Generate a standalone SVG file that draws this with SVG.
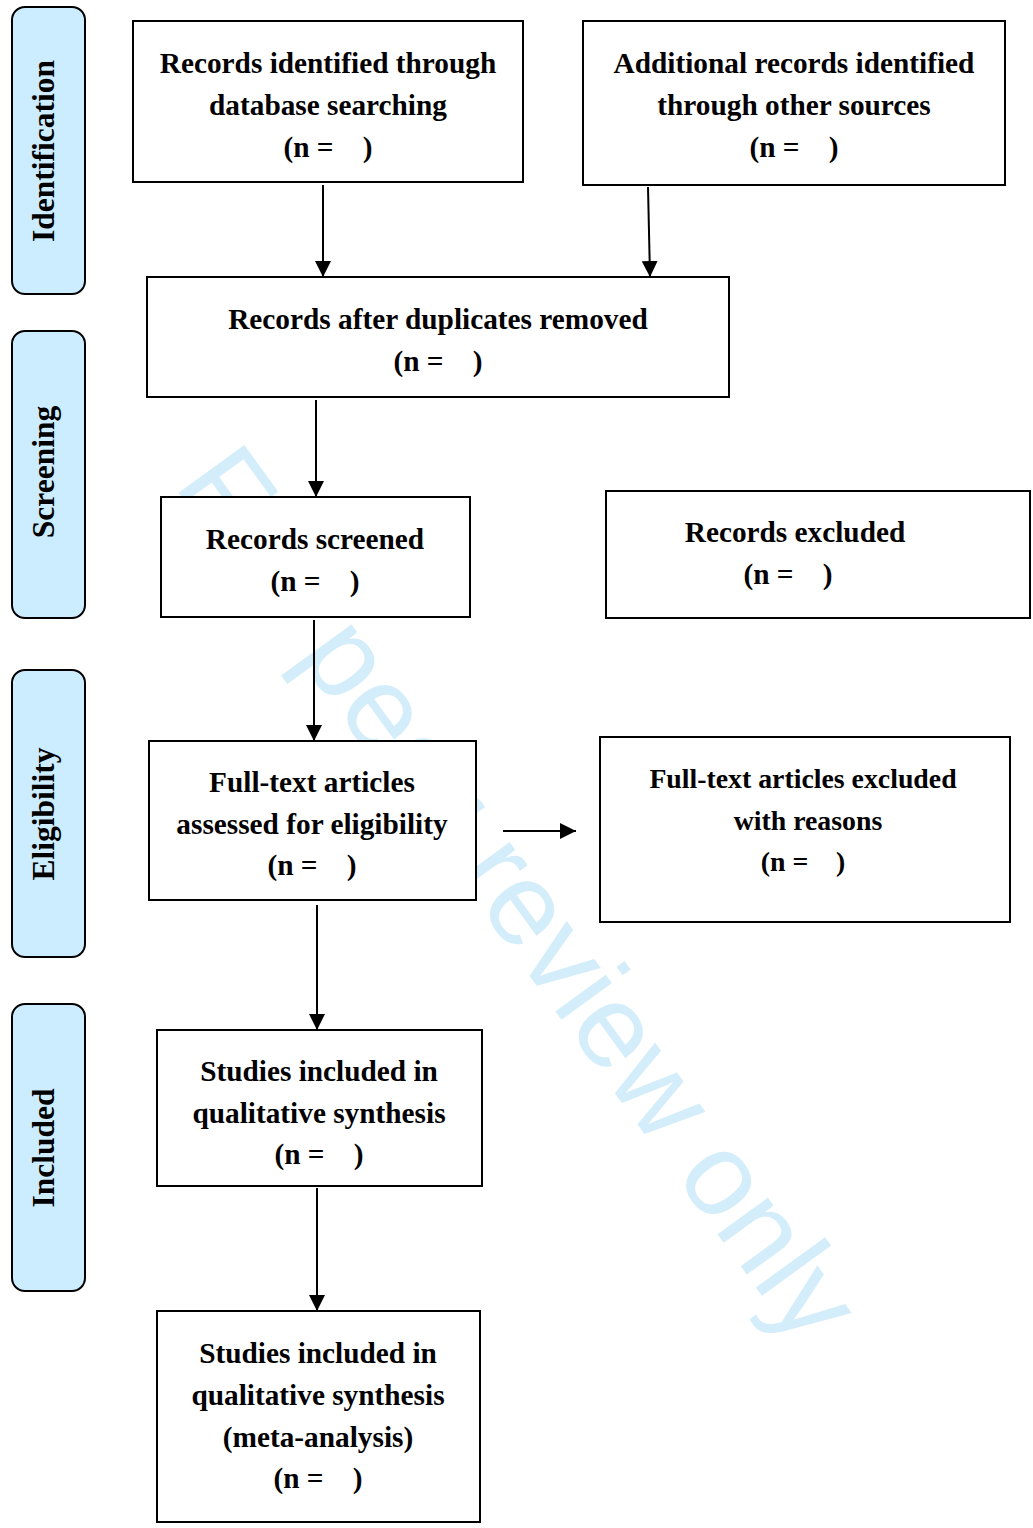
<svg xmlns="http://www.w3.org/2000/svg" width="1033" height="1528" viewBox="0 0 1033 1528">
<style>
.box{fill:#ffffff;stroke:#000;stroke-width:2}
.side{fill:#ccecff;stroke:#000;stroke-width:2}
.t{font-family:"Liberation Serif","Times New Roman",serif;font-weight:bold;font-size:29.3px;fill:#000;text-anchor:middle}
.sm{font-size:27.8px}
.s{font-family:"Liberation Serif","Times New Roman",serif;font-weight:bold;font-size:31.5px;fill:#000;text-anchor:middle}
.wm{font-family:"Liberation Sans",Arial,sans-serif;font-size:118px;fill:#d3eefa}
.c{stroke:#000;stroke-width:2;fill:none;marker-end:url(#ah)}
</style>
<defs>
<marker id="ah" viewBox="0 0 10 10" refX="10" refY="5" markerWidth="16" markerHeight="16" markerUnits="userSpaceOnUse" orient="auto">
<path d="M0,0 L10,5 L0,10 z" fill="#000"/>
</marker>
</defs>
<rect width="1033" height="1528" fill="#ffffff"/>
<text class="wm" transform="translate(173,485) rotate(54)">For peer review only</text>

<g id="label-identification">
<rect class="side" x="12" y="7" width="73" height="287" rx="13"/>
<text class="s" transform="translate(54,151) rotate(-90)">Identification</text>
</g>
<g id="label-screening">
<rect class="side" x="12" y="331" width="73" height="287" rx="13"/>
<text class="s" transform="translate(54,472) rotate(-90)">Screening</text>
</g>
<g id="label-eligibility">
<rect class="side" x="12" y="670" width="73" height="287" rx="13"/>
<text class="s" transform="translate(54,814) rotate(-90)">Eligibility</text>
</g>
<g id="label-included">
<rect class="side" x="12" y="1004" width="73" height="287" rx="13"/>
<text class="s" transform="translate(54,1148) rotate(-90)">Included</text>
</g>

<g id="connectors">
<line class="c" x1="323" y1="185" x2="323" y2="277"/>
<line class="c" x1="648" y1="187" x2="650" y2="277"/>
<line class="c" x1="316" y1="400" x2="316" y2="497"/>
<line class="c" x1="314" y1="620" x2="314" y2="741"/>
<line class="c" x1="503" y1="831" x2="576" y2="831"/>
<line class="c" x1="317" y1="905" x2="317" y2="1030"/>
<line class="c" x1="317" y1="1188" x2="317" y2="1311"/>
</g>

<g id="records-identified">
<rect class="box" x="133" y="21" width="390" height="161"/>
<text class="t" x="328" y="73">Records identified through</text>
<text class="t" x="328" y="115">database searching</text>
<text class="t" x="328" y="157">(n =&#160;&#160;&#160;&#160;)</text>
</g>
<g id="additional-records">
<rect class="box" x="583" y="21" width="422" height="164"/>
<text class="t" x="794" y="73">Additional records identified</text>
<text class="t" x="794" y="115">through other sources</text>
<text class="t" x="794" y="157">(n =&#160;&#160;&#160;&#160;)</text>
</g>
<g id="duplicates-removed">
<rect class="box" x="147" y="277" width="582" height="120"/>
<text class="t" x="438" y="329">Records after duplicates removed</text>
<text class="t" x="438" y="371">(n =&#160;&#160;&#160;&#160;)</text>
</g>
<g id="records-screened">
<rect class="box" x="161" y="497" width="309" height="120"/>
<text class="t" x="315" y="549">Records screened</text>
<text class="t" x="315" y="591">(n =&#160;&#160;&#160;&#160;)</text>
</g>
<g id="records-excluded">
<rect class="box" x="606" y="491" width="424" height="127"/>
<text class="t" x="795" y="542">Records excluded</text>
<text class="t" x="788" y="584">(n =&#160;&#160;&#160;&#160;)</text>
</g>
<g id="fulltext-assessed">
<rect class="box" x="149" y="741" width="327" height="159"/>
<text class="t" x="312" y="792">Full-text articles</text>
<text class="t" x="312" y="834">assessed for eligibility</text>
<text class="t" x="312" y="875">(n =&#160;&#160;&#160;&#160;)</text>
</g>
<g id="fulltext-excluded">
<rect class="box" x="600" y="737" width="410" height="185"/>
<text class="t sm" x="803" y="788">Full-text articles excluded</text>
<text class="t sm" x="808" y="830">with reasons</text>
<text class="t sm" x="803" y="871">(n =&#160;&#160;&#160;&#160;)</text>
</g>
<g id="studies-qualitative">
<rect class="box" x="157" y="1030" width="325" height="156"/>
<text class="t" x="319" y="1081">Studies included in</text>
<text class="t" x="319" y="1123">qualitative synthesis</text>
<text class="t" x="319" y="1164">(n =&#160;&#160;&#160;&#160;)</text>
</g>
<g id="studies-meta">
<rect class="box" x="157" y="1311" width="323" height="211"/>
<text class="t" x="318" y="1363">Studies included in</text>
<text class="t" x="318" y="1405">qualitative synthesis</text>
<text class="t" x="318" y="1447">(meta-analysis)</text>
<text class="t" x="318" y="1488">(n =&#160;&#160;&#160;&#160;)</text>
</g>
</svg>
